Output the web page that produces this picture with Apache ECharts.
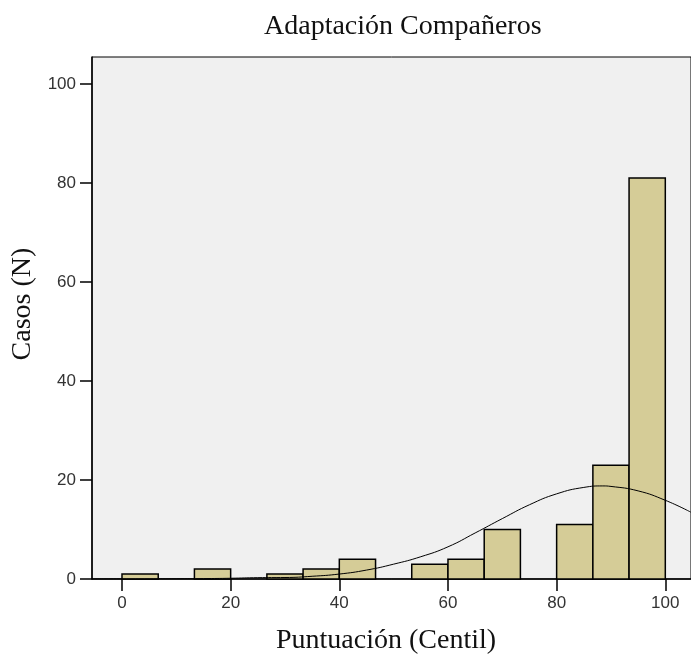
<!DOCTYPE html>
<html>
<head>
<meta charset="utf-8">
<script src="https://cdn.jsdelivr.net/npm/echarts@6/dist/echarts.min.js"></script>
<style>
html,body{margin:0;padding:0;background:#fff;}
#chart{width:691px;height:661px;}
</style>
</head>
<body>
<div id="chart"></div>
<script>
// Histogram bins (Puntuación Centil) and counts
var binStart = [0, 13.33, 26.67, 33.33, 40, 53.33, 60, 66.67, 80, 86.67, 93.33];
var binEnd   = [6.67, 20, 33.33, 40, 46.67, 60, 66.67, 73.33, 86.67, 93.33, 100];
var counts   = [1, 2, 1, 2, 4, 3, 4, 10, 11, 23, 81];

// Normal curve (x, casos)
var curveX = [-5.5, 0, 5, 10, 15, 20, 25, 30, 35, 40, 45, 50, 55, 60, 65, 70, 75, 80, 85, 88.5, 90, 95, 100, 104.7];
var curveY = [0.0, 0.01, 0.02, 0.04, 0.08, 0.15, 0.27, 0.3, 0.55, 1.0, 1.8, 3.0, 4.5, 6.5, 9.3, 12.2, 15.0, 17.2, 18.5, 18.8, 18.7, 17.8, 15.9, 13.5];

var tickValues = [0, 20, 40, 60, 80, 100];

var chart = echarts.init(document.getElementById('chart'), null, {renderer: 'canvas'});

var barData = binStart.map(function (s, i) { return [s, binEnd[i], counts[i]]; });
var curveData = curveX.map(function (x, i) { return [x, curveY[i]]; });

chart.setOption({
  animation: false,
  backgroundColor: '#ffffff',
  title: {
    text: 'Adaptación Compañeros',
    left: 259,
    top: 8,
    textStyle: {fontFamily: 'Liberation Serif', fontSize: 28, fontWeight: 'normal', color: '#111'}
  },
  grid: {
    left: 92, right: 0, top: 57, bottom: 82,
    containLabel: false, outerBoundsMode: 'none',
    show: true, backgroundColor: '#f0f0f0', borderColor: '#000', borderWidth: 1
  },
  xAxis: {
    type: 'value', min: -5.52, max: 104.73,
    name: 'Puntuación (Centil)', nameLocation: 'middle', nameGap: 48,
    nameTextStyle: {fontFamily: 'Liberation Serif', fontSize: 28, color: '#111', padding: [0, 11, 0, 0]},
    axisLine: {show: true, onZero: false, lineStyle: {color: '#000', width: 1.5}},
    axisTick: {show: true, customValues: tickValues, length: 12, lineStyle: {color: '#000', width: 1.5}},
    axisLabel: {customValues: tickValues, fontFamily: 'Liberation Sans', fontSize: 17, color: '#333', margin: 16},
    splitLine: {show: false}
  },
  yAxis: {
    type: 'value', min: 0, max: 105.45,
    name: 'Casos (N)', nameLocation: 'middle', nameGap: 55, nameMoveOverlap: false,
    nameTextStyle: {fontFamily: 'Liberation Serif', fontSize: 28, color: '#111', padding: [0, 0, 0, 28]},
    axisLine: {show: true, onZero: false, lineStyle: {color: '#000', width: 1.5}},
    axisTick: {show: true, customValues: tickValues, length: 12, lineStyle: {color: '#000', width: 1.5}},
    axisLabel: {customValues: tickValues, fontFamily: 'Liberation Sans', fontSize: 17, color: '#333', margin: 16},
    splitLine: {show: false}
  },
  series: [
    {
      type: 'custom',
      data: barData,
      encode: {x: [0, 1], y: 2},
      renderItem: function (params, api) {
        var p0 = api.coord([api.value(0), 0]);
        var p1 = api.coord([api.value(1), api.value(2)]);
        return {
          type: 'rect',
          shape: {x: p0[0], y: p1[1], width: p1[0] - p0[0], height: p0[1] - p1[1]},
          style: {fill: '#d5cc97', stroke: '#000', lineWidth: 1.5}
        };
      },
      z: 2
    },
    {
      type: 'line',
      data: curveData,
      smooth: true,
      symbol: 'none',
      lineStyle: {color: '#000', width: 1},
      z: 3
    }
  ]
});
</script>
</body>
</html>
